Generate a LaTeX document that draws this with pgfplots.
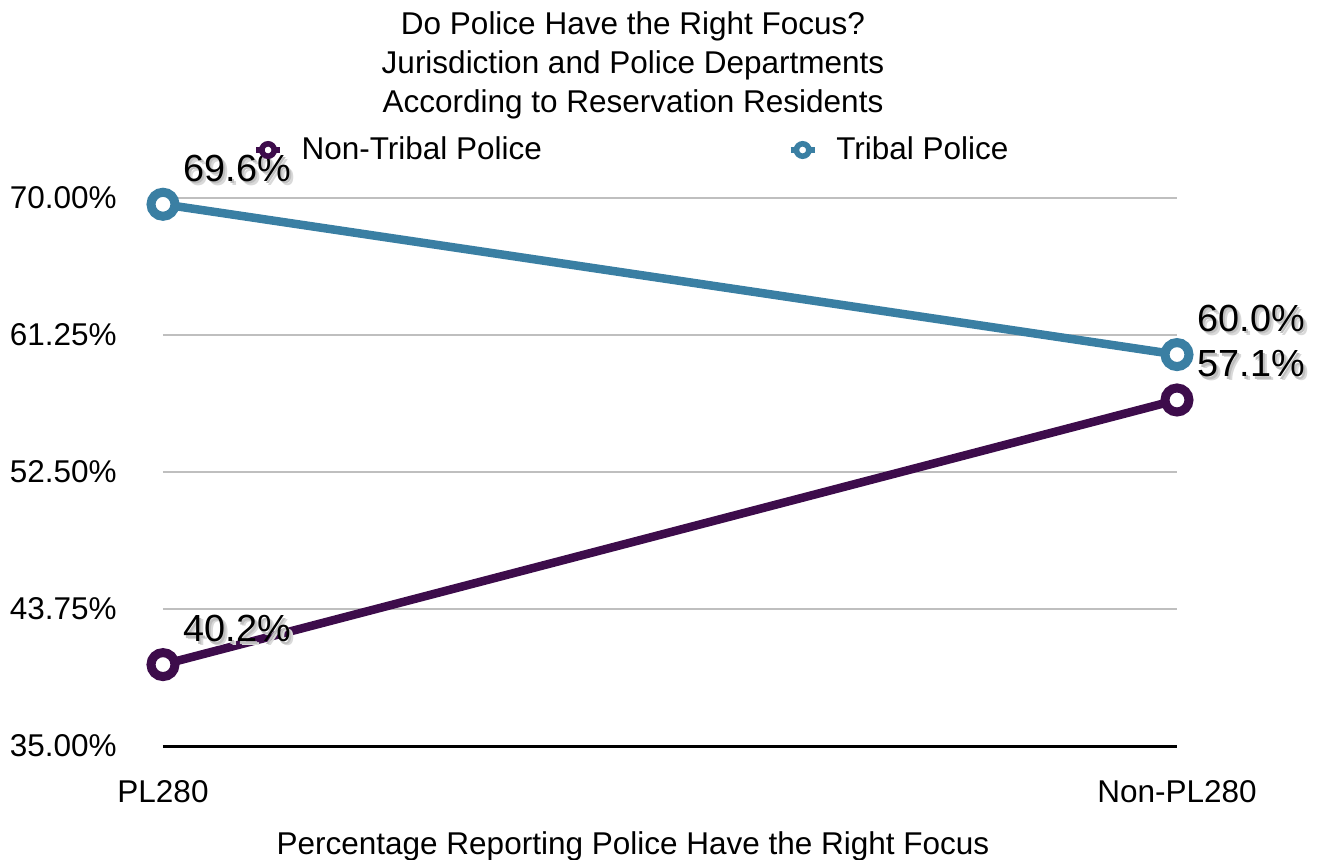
\documentclass[border=0pt]{standalone}
\usepackage{pgfplots}
\pgfplotsset{compat=1.18}
\usepackage{fontspec}
\setmainfont{Liberation Sans}
\definecolor{tribal}{HTML}{3A7FA3}
\definecolor{nontribal}{HTML}{3D0C4B}
\definecolor{gridgray}{HTML}{BFBFBF}
\newcommand{\sh}[1]{\makebox[0pt][l]{\hspace{2pt}\raisebox{-2pt}{\textcolor{black!15}{#1}}}\makebox[0pt][l]{\hspace{1.2pt}\raisebox{-1.2pt}{\textcolor{black!25}{#1}}}#1}
\newcommand{\basefont}{\fontsize{15.75pt}{19.5pt}\selectfont}
\begin{document}
\begin{tikzpicture}
\useasboundingbox (0,0) rectangle (659.5pt,429.5pt);
\begin{axis}[
  at={(81.5pt,56.5pt)}, anchor=south west,
  scale only axis, width=507pt, height=274pt,
  xmin=0, xmax=1, ymin=35, ymax=70,
  clip=false,
  axis x line*=bottom, axis y line*=left,
  x axis line style={-, black, line width=1.5pt},
  y axis line style={draw=none},
  major tick length=0pt,
  xtick={0,1}, xticklabels={PL280,Non-PL280},
  ytick={35,43.75,52.5,61.25,70},
  yticklabels={35.00\%,43.75\%,52.50\%,61.25\%,70.00\%},
  ymajorgrids, grid style={gridgray, line width=1pt},
  xticklabel style={anchor=center, yshift=-23pt, font=\basefont},
  yticklabel style={anchor=east, inner sep=0pt, xshift=-23pt, font=\basefont},
  title={Do Police Have the Right Focus?\\Jurisdiction and Police Departments\\According to Reservation Residents},
  title style={at={(0.4635,1)}, anchor=center, yshift=60.5pt, align=center, font=\basefont},
  xlabel={Percentage Reporting Police Have the Right Focus},
  xlabel style={at={(axis description cs:0.4635,0)}, anchor=center, yshift=-50pt, font=\basefont},
  legend columns=2,
  legend style={at={(rel axis cs:0.0888,1.0876)}, anchor=west, draw=none, fill=none, inner sep=0pt,
    font=\basefont, nodes={inner sep=0pt},
    /tikz/every odd column/.append style={column sep=9.5pt},
    /tikz/every even column/.append style={column sep=123pt}},
  legend image code/.code={
    \draw[#1, line width=2.6pt] (0pt,0pt) -- (12pt,0pt);
    \draw[#1, line width=2.8pt, fill=white] (6pt,0pt) circle (3.1pt);
  },
  point meta=explicit symbolic,
  nodes near coords={\sh{\pgfplotspointmeta}},
  every node near coord/.style={anchor=west, inner sep=0pt, xshift=8pt, yshift=17pt,
    font=\fontsize{18.9pt}{22pt}\selectfont, text=black},
]
\addplot[color=nontribal, line width=4.25pt, mark=*, mark size=6pt,
  mark options={fill=white, line width=4.5pt, solid}]
  coordinates {(0,40.2) [40.2\%] (1,57.1) [57.1\%]};
\addlegendentry{Non-Tribal Police}
\addplot[color=tribal, line width=4.25pt, mark=*, mark size=6pt,
  mark options={fill=white, line width=4.5pt, solid}]
  coordinates {(0,69.6) [69.6\%] (1,60.0) [60.0\%]};
\addlegendentry{Tribal Police}
\end{axis}
\end{tikzpicture}
\end{document}
